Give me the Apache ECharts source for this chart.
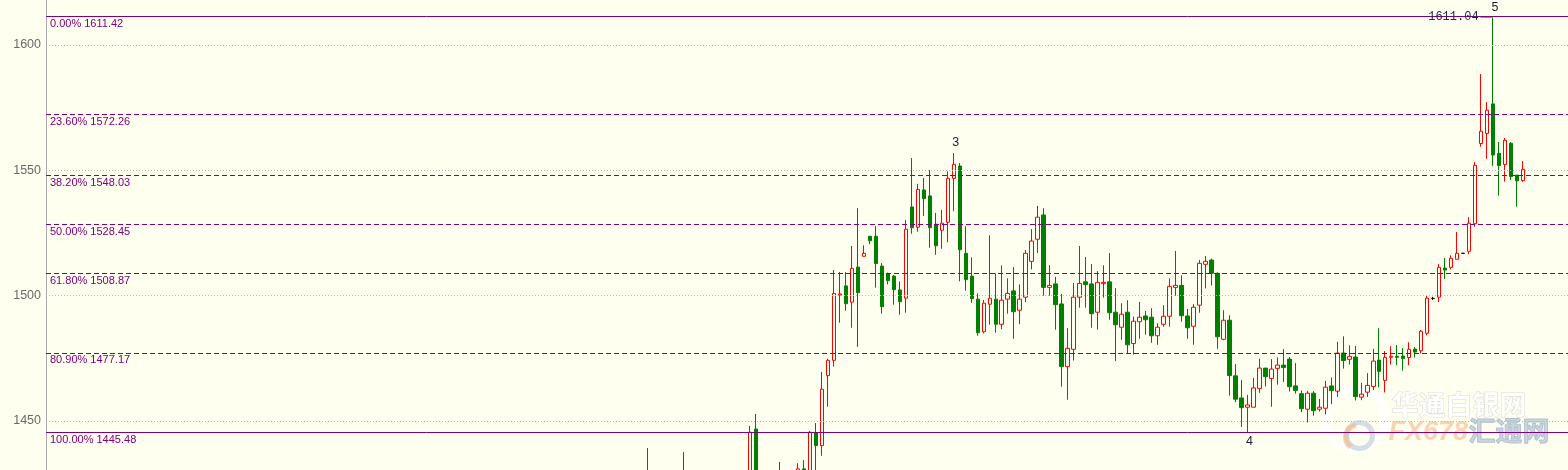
<!DOCTYPE html>
<html>
<head>
<meta charset="utf-8">
<title>Gold H4 – Fibonacci retracement</title>
<script src="https://cdn.jsdelivr.net/npm/echarts@6/dist/echarts.min.js"></script>
<style>
  html, body { margin: 0; padding: 0; background: #fffff0; }
  #chart { width: 1568px; height: 470px; }
</style>
</head>
<body>
<div id="chart"></div>
<script>
// ---- data -------------------------------------------------------------
// number of bar slots on the category axis (bars left of the window are below the price range)
const slotCount = 254;

// candles: [slot, open, close, low, high]
const candles = [
  [100, 1418.0, 1428.0, 1412.0, 1439.2],
  [106, 1428.0, 1420.0, 1415.0, 1437.6],
  [117, 1425.0, 1445.5, 1422.0, 1448.0],
  [118, 1446.8, 1428.0, 1426.0, 1452.8],
  [122, 1428.0, 1424.0, 1420.0, 1433.6],
  [125, 1429.0, 1430.9, 1427.0, 1433.2],
  [126, 1430.9, 1429.0, 1426.0, 1434.4],
  [127, 1429.0, 1445.5, 1427.0, 1446.0],
  [128, 1445.3, 1440.2, 1428.0, 1449.2],
  [129, 1440.2, 1462.7, 1436.1, 1469.6],
  [130, 1468.1, 1474.2, 1455.7, 1474.9],
  [131, 1474.2, 1500.9, 1471.7, 1510.2],
  [132, 1500.3, 1500.7, 1489.2, 1509.4],
  [133, 1503.9, 1496.8, 1494.0, 1509.4],
  [134, 1497.4, 1510.9, 1487.2, 1519.8],
  [135, 1511.4, 1501.2, 1479.6, 1534.9],
  [136, 1515.7, 1516.9, 1515.7, 1520.1],
  [137, 1523.7, 1521.9, 1520.5, 1523.7],
  [138, 1523.7, 1512.8, 1503.2, 1527.8],
  [139, 1511.8, 1495.6, 1492.8, 1513.0],
  [140, 1508.6, 1506.0, 1504.5, 1509.2],
  [141, 1507.8, 1502.4, 1496.4, 1508.2],
  [142, 1502.3, 1497.6, 1492.4, 1505.7],
  [143, 1499.0, 1526.5, 1493.2, 1530.2],
  [144, 1535.4, 1527.1, 1524.7, 1554.9],
  [145, 1527.3, 1542.4, 1525.5, 1544.6],
  [146, 1542.2, 1538.7, 1531.8, 1546.9],
  [147, 1539.8, 1527.1, 1519.1, 1550.1],
  [148, 1528.5, 1519.9, 1516.3, 1533.0],
  [149, 1526.1, 1528.9, 1518.7, 1534.2],
  [150, 1529.3, 1546.8, 1521.3, 1549.6],
  [151, 1546.8, 1552.4, 1533.7, 1556.9],
  [152, 1551.7, 1518.3, 1505.7, 1552.9],
  [153, 1516.9, 1506.4, 1502.0, 1527.7],
  [154, 1507.8, 1498.8, 1497.1, 1515.3],
  [155, 1498.6, 1485.2, 1484.0, 1500.9],
  [156, 1485.6, 1497.0, 1485.0, 1498.3],
  [157, 1496.6, 1499.0, 1488.4, 1524.1],
  [158, 1498.6, 1488.6, 1485.2, 1508.9],
  [159, 1488.6, 1498.2, 1486.6, 1512.1],
  [160, 1498.6, 1500.9, 1492.8, 1506.9],
  [161, 1501.9, 1493.6, 1482.8, 1511.4],
  [162, 1494.2, 1498.6, 1488.6, 1504.5],
  [163, 1499.4, 1516.9, 1497.4, 1518.2],
  [164, 1513.7, 1521.8, 1510.5, 1526.6],
  [165, 1522.5, 1531.3, 1517.0, 1535.8],
  [166, 1532.2, 1503.3, 1500.0, 1534.9],
  [167, 1503.3, 1504.1, 1500.0, 1512.2],
  [168, 1504.7, 1496.4, 1486.4, 1507.5],
  [169, 1496.7, 1471.7, 1463.7, 1500.7],
  [170, 1471.7, 1479.0, 1458.5, 1487.0],
  [171, 1478.6, 1499.4, 1474.1, 1505.1],
  [172, 1499.4, 1504.9, 1495.2, 1519.8],
  [173, 1505.5, 1504.4, 1495.2, 1515.4],
  [174, 1504.7, 1492.8, 1487.2, 1512.6],
  [175, 1493.4, 1505.3, 1486.4, 1509.8],
  [176, 1504.8, 1505.3, 1499.2, 1512.1],
  [177, 1505.5, 1493.2, 1490.4, 1517.0],
  [178, 1493.4, 1488.4, 1473.9, 1503.0],
  [179, 1487.4, 1492.6, 1482.4, 1497.0],
  [180, 1493.4, 1480.4, 1476.9, 1498.2],
  [181, 1480.9, 1489.8, 1476.5, 1491.7],
  [182, 1489.6, 1491.4, 1482.8, 1497.5],
  [183, 1491.9, 1490.4, 1484.4, 1493.9],
  [184, 1491.4, 1484.0, 1481.2, 1495.0],
  [185, 1484.0, 1487.4, 1480.4, 1489.0],
  [186, 1488.6, 1491.8, 1487.6, 1496.2],
  [187, 1491.8, 1503.7, 1487.6, 1506.9],
  [188, 1503.3, 1504.1, 1500.0, 1517.8],
  [189, 1504.1, 1492.0, 1489.6, 1508.1],
  [190, 1491.9, 1487.2, 1482.8, 1494.7],
  [191, 1487.8, 1495.4, 1480.4, 1496.6],
  [192, 1496.2, 1512.9, 1493.2, 1514.2],
  [193, 1512.5, 1513.7, 1502.9, 1515.8],
  [194, 1514.2, 1508.9, 1504.0, 1514.8],
  [195, 1508.9, 1483.6, 1478.8, 1509.3],
  [196, 1482.6, 1490.2, 1482.2, 1494.2],
  [197, 1490.2, 1468.1, 1460.1, 1492.2],
  [198, 1468.0, 1458.7, 1457.5, 1472.7],
  [199, 1459.2, 1455.3, 1447.6, 1466.4],
  [200, 1455.5, 1456.4, 1445.48, 1460.4],
  [201, 1455.5, 1463.2, 1455.5, 1467.2],
  [202, 1463.0, 1471.1, 1461.2, 1474.9],
  [203, 1471.1, 1467.7, 1463.8, 1471.1],
  [204, 1467.0, 1470.7, 1455.7, 1474.7],
  [205, 1471.0, 1472.3, 1464.5, 1475.4],
  [206, 1472.3, 1471.3, 1465.6, 1478.7],
  [207, 1474.7, 1463.7, 1461.8, 1475.5],
  [208, 1464.0, 1462.2, 1460.9, 1473.1],
  [209, 1460.9, 1454.9, 1453.6, 1462.2],
  [210, 1454.7, 1461.1, 1449.4, 1462.0],
  [211, 1461.1, 1454.1, 1452.1, 1461.9],
  [212, 1454.7, 1455.5, 1453.8, 1458.8],
  [213, 1455.1, 1463.5, 1452.6, 1466.0],
  [214, 1464.0, 1462.1, 1456.7, 1467.4],
  [215, 1461.9, 1477.1, 1459.6, 1481.6],
  [216, 1477.1, 1474.1, 1470.9, 1483.8],
  [217, 1474.6, 1475.8, 1472.5, 1480.2],
  [218, 1475.5, 1459.7, 1458.2, 1479.9],
  [219, 1459.5, 1460.7, 1458.3, 1465.2],
  [220, 1461.5, 1464.2, 1459.6, 1469.1],
  [221, 1463.8, 1473.9, 1462.3, 1478.8],
  [222, 1474.3, 1469.8, 1463.4, 1487.0],
  [223, 1466.2, 1475.4, 1461.4, 1477.9],
  [224, 1475.4, 1475.8, 1472.5, 1479.8],
  [225, 1475.8, 1475.4, 1472.3, 1480.3],
  [226, 1475.9, 1474.9, 1470.1, 1479.1],
  [227, 1475.3, 1478.6, 1472.3, 1481.4],
  [228, 1478.7, 1477.5, 1475.3, 1479.5],
  [229, 1478.0, 1485.8, 1477.0, 1486.3],
  [230, 1485.0, 1499.0, 1484.2, 1500.3],
  [231, 1498.9, 1498.9, 1498.3, 1499.5],
  [232, 1499.4, 1511.3, 1497.5, 1512.6],
  [233, 1511.0, 1510.2, 1506.7, 1515.0],
  [234, 1511.3, 1514.9, 1510.5, 1516.1],
  [235, 1514.5, 1516.9, 1514.5, 1525.4],
  [236, 1516.9, 1516.9, 1516.9, 1516.9],
  [237, 1517.7, 1528.9, 1516.5, 1531.3],
  [238, 1528.7, 1552.0, 1527.5, 1553.3],
  [239, 1560.7, 1565.6, 1559.4, 1588.4],
  [240, 1564.7, 1574.0, 1554.6, 1577.2],
  [241, 1576.5, 1556.1, 1551.8, 1611.04],
  [242, 1556.8, 1551.9, 1539.9, 1561.3],
  [243, 1552.3, 1562.0, 1545.5, 1562.9],
  [244, 1560.8, 1547.5, 1546.1, 1561.3],
  [245, 1548.1, 1545.8, 1535.5, 1548.1],
  [246, 1545.9, 1550.4, 1545.4, 1553.7]
];

// Fibonacci retracement levels
const fibPercents = [0, 23.6, 38.2, 50, 61.8, 80.9, 100];
const fibPrices   = [1611.42, 1572.26, 1548.03, 1528.45, 1508.87, 1477.17, 1445.48];

// price axis
const yTicks = [1450, 1500, 1550, 1600];
const yMin = 1430.45;
const yMax = 1617.95;

// Elliott wave counts: [label, slot, anchor] (anchor 'high' or 'low')
const waveMarks = [
  ['3', 151, 'high'],
  ['4', 200, 'low'],
  ['5', 241, 'high']
];
// slot whose high gets a price tag
const priceTagSlot = 241;

// ---- build series data ------------------------------------------------
const categories = Array.from({ length: slotCount }, (_, i) => String(i));
const ohlc = Array.from({ length: slotCount }, () => '-');
const bySlot = {};
candles.forEach(([s, o, c, l, h]) => {
  bySlot[s] = { o, c, l, h };
  const item = { value: [o, c, l, h] };
  if (o === c) {
    // unchanged bars are drawn in black
    item.itemStyle = {
      color: '#000000', color0: '#000000',
      borderColor: '#000000', borderColor0: '#000000', borderColorDoji: '#000000'
    };
  }
  ohlc[s] = item;
});

const gridLineData = yTicks.map(v => ({
  yAxis: v,
  lineStyle: { color: '#b9b9b9', type: [1, 2], width: 1 },
  label: { show: false }
}));

const fibLineData = fibPrices.map((p, i) => {
  const edge = i === 0 || i === fibPrices.length - 1;
  return {
    yAxis: p,
    lineStyle: { color: '#800080', width: 1, type: edge ? 'solid' : [5, 3], opacity: 1 },
    label: {
      show: true,
      position: 'insideStartBottom',
      distance: [4, 2],
      formatter: fibPercents[i].toFixed(2) + '% ' + p.toFixed(2),
      color: '#800080',
      fontFamily: 'Liberation Sans',
      fontSize: 11
    }
  };
});

const waveData = waveMarks.map(([txt, s, anchor]) => {
  const b = bySlot[s];
  const v = anchor === 'high' ? b.h : b.l;
  return {
    coord: [s, v],
    label: {
      show: true,
      formatter: txt,
      position: anchor === 'high' ? 'top' : 'bottom',
      distance: anchor === 'high' ? 3 : 2,
      offset: [2, 0],
      color: '#1c1c30',
      fontFamily: 'Liberation Sans',
      fontSize: 12.5
    }
  };
});

// price tag at the top of the last swing: value text followed by a short grey leader
const tagHigh = bySlot[priceTagSlot].h;
waveData.push({
  coord: [priceTagSlot, tagHigh],
  label: {
    show: true,
    position: 'left',
    distance: 0,
    formatter: '{v|' + tagHigh.toFixed(2) + '}{g|\u2014}',
    rich: {
      v: { color: '#1a2a48', fontFamily: 'Liberation Mono', fontSize: 12, padding: [0, 2, 0, 0] },
      g: { color: '#8a8a8a', fontFamily: 'Liberation Sans', fontSize: 12 }
    }
  }
});

// ---- chart ------------------------------------------------------------
const chart = echarts.init(document.getElementById('chart'), null, { renderer: 'canvas' });

chart.setOption({
  animation: false,
  backgroundColor: '#fffff0',
  grid: { left: 46, top: 0, width: 1524, height: 470, containLabel: false },
  xAxis: {
    type: 'category',
    data: categories,
    boundaryGap: true,
    axisLine: { show: false },
    axisTick: { show: false },
    axisLabel: { show: false },
    splitLine: { show: false }
  },
  yAxis: {
    type: 'value',
    min: yMin,
    max: yMax,
    position: 'left',
    axisLine: { show: true, lineStyle: { color: '#a9a9a9', width: 1 } },
    axisTick: { show: false },
    splitLine: { show: false },
    axisLabel: {
      customValues: yTicks,
      formatter: v => String(v),
      color: '#6a6a6a',
      fontFamily: 'Liberation Sans',
      fontSize: 12.5,
      margin: 5
    }
  },
  series: [{
    type: 'candlestick',
    data: ohlc,
    barWidth: 4,
    clip: true,
    itemStyle: {
      color: '#fffff0',
      color0: '#008000',
      borderColor: '#ff0000',
      borderColor0: '#008000',
      borderWidth: 1
    },
    emphasis: { disabled: true },
    markLine: {
      silent: true,
      symbol: ['none', 'none'],
      animation: false,
      data: gridLineData.concat(fibLineData)
    },
    markPoint: {
      silent: true,
      symbol: 'circle',
      symbolSize: 1,
      itemStyle: { color: 'rgba(0,0,0,0)' },
      data: waveData
    }
  }],
  graphic: [{
    type: 'group',
    left: 1322,
    top: 386,
    silent: true,
    z: 100,
    children: [
      { type: 'circle', shape: { cx: 34, cy: 34, r: 30 },
        style: { fill: 'none', stroke: '#ffffff', lineWidth: 7, opacity: 0.75 } },
      { type: 'circle', shape: { cx: 38, cy: 50, r: 13 },
        style: { fill: 'none', stroke: '#a9bcd6', lineWidth: 5, opacity: 0.5 } },
      { type: 'arc', shape: { cx: 36, cy: 52, r: 12, startAngle: 2.2, endAngle: 4.6 },
        style: { fill: 'none', stroke: '#f6b27a', lineWidth: 5, opacity: 0.55 } },
      { type: 'text', x: 70, y: 6,
        style: { text: '华通白银网', font: 'bold 27px "Noto Sans CJK SC"', fill: '#ffffff',
                 stroke: '#d6d6d0', lineWidth: 1, opacity: 0.9 } },
      { type: 'text', x: 67, y: 34,
        style: { text: 'FX678', font: 'italic bold 27px "Liberation Sans"', fill: '#f7b68a',
                 opacity: 0.6 } },
      { type: 'text', x: 147, y: 32,
        style: { text: '汇通网', font: 'bold 27px "Noto Sans CJK SC"', fill: '#a7bbd2',
                 stroke: '#8aa0bb', lineWidth: 1, opacity: 0.6 } }
    ]
  }]
});
</script>
</body>
</html>
